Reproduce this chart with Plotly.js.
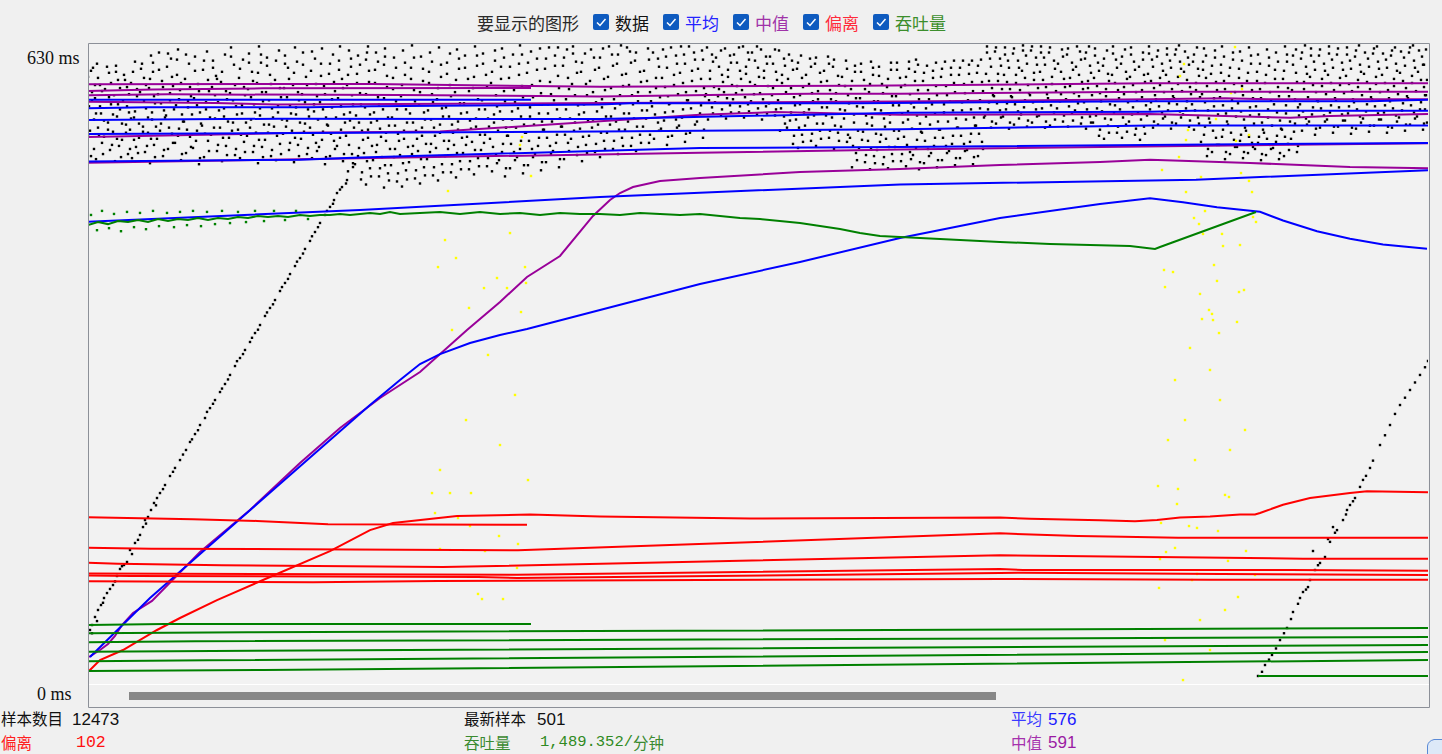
<!DOCTYPE html>
<html><head><meta charset="utf-8">
<script src="https://cdn.plot.ly/plotly-3.0.1.min.js"></script>
<style>html,body{margin:0;padding:0;background:#f0f0f0;overflow:hidden}#chart{width:1442px;height:754px}</style>
</head><body><div id="chart"></div>
<script>
// ---------------- DATA ----------------
const legendLabels = ['数据','平均','中值','偏离','吞吐量'];
const yTickLabels = ['630 ms','0 ms'];
const sampleCount = '12473';
const latestSample = '501';
const averageValue = '576';
const medianValue = '591';
const deviationValue = '102';
const throughputValue = '1,489.352/';
const throughputUnit = '分钟';

// response-time samples (sample column, ms), pairs per row
const dataCloud = [
[3,520,0,541,6,556,1,569,4,583,0,598,5,607],
[8,517,14,533,10,548,13,562,7,577,12,590,9,611],
[22,526,16,539,20,553,23,571,17,586,21,602],
[27,515,31,530,25,544,29,559,32,566,26,580,30,595,28,609],
[40,522,34,536,38,551,41,563,35,574,39,588,36,600],
[44,518,48,529,42,546,46,558,49,579,43,592,47,613],
[57,524,51,538,55,549,58,567,52,583,56,597,53,606],
[62,513,66,531,60,543,64,556,67,572,61,587,65,603,63,619],
[75,520,69,537,73,552,76,565,70,581,74,594,71,622],
[80,527,84,542,78,560,82,575,85,589,79,608,83,616],
[93,516,87,533,91,547,94,561,88,570,92,585,89,600,90,625],
[98,523,102,539,96,554,100,568,103,579,97,596,101,611],
[111,512,105,528,109,545,112,563,106,577,110,591,107,618],
[116,519,120,535,114,550,118,566,121,584,115,605,119,623],
[129,525,123,541,127,557,130,573,124,588,128,599,125,614],
[134,515,138,530,132,548,136,559,139,576,133,593,137,620],
[147,521,141,538,145,553,148,569,142,582,146,610,143,627],
[152,518,156,534,150,546,154,562,157,580,151,597,155,615],
[165,524,159,540,163,556,166,571,160,586,164,603,161,621],
[170,513,174,529,168,543,172,560,175,574,169,592,173,612,171,628],
[183,520,177,536,181,551,184,567,178,583,182,600,179,617],
[188,516,192,532,186,549,190,563,193,578,187,595,191,624],
[201,526,195,542,199,555,202,570,196,587,200,607,197,619],
[206,514,210,531,204,545,208,561,211,575,205,590,209,613,207,627],
[219,522,213,537,217,552,220,566,214,581,218,598,215,622],
[224,518,228,533,222,548,226,564,229,579,223,604,227,616],
[237,512,231,529,235,544,238,558,232,573,236,589,233,611,234,626],
[242,520,246,535,240,550,244,568,247,584,241,601,245,620],
[255,515,249,530,253,546,256,561,250,577,254,596,251,614,252,628],
[260,505,264,522,258,540,262,555,265,571,259,590,263,608,261,624],
[273,497,267,512,271,528,274,545,268,560,272,582,269,601,270,619],
[278,492,282,508,276,523,280,538,283,553,277,568,281,593,278,615,280,628],
[291,500,285,516,289,531,292,547,286,563,290,578,287,605,288,622],
[296,489,300,503,294,519,298,535,301,550,295,566,299,588,296,610,297,626],
[309,495,303,511,307,527,310,542,304,558,308,574,305,597,306,617],
[314,490,318,506,312,521,316,537,319,553,313,579,317,600,315,624],
[327,498,321,514,325,530,328,545,322,562,326,585,323,607,324,629],
[332,493,336,509,330,525,334,540,337,556,331,571,335,594,333,618],
[345,501,339,517,343,532,346,548,340,565,344,581,341,603,342,622],
[350,496,354,512,348,528,352,543,355,559,349,576,353,598,351,627],
[363,504,357,520,361,535,364,551,358,568,362,590,359,612],
[368,499,372,515,366,531,370,546,373,562,367,583,371,606,369,625],
[381,507,375,523,379,539,382,555,376,572,380,596,377,619],
[386,502,390,518,384,534,388,549,391,566,385,587,389,609,387,628],
[399,510,393,526,397,541,400,557,394,575,398,600,395,621],
[404,505,408,521,402,537,406,553,409,569,403,592,407,614],
[417,500,411,516,415,532,418,548,412,564,416,584,413,608,414,626],
[422,508,426,524,420,540,424,556,427,573,421,597,425,620],
[435,503,429,519,433,535,436,551,430,567,434,589,431,611,432,629],
[440,511,444,527,438,543,442,559,445,578,439,602,443,623],
[453,506,447,522,451,538,454,554,448,571,452,594,449,616],
[458,514,462,530,456,546,460,562,463,581,457,606,461,627],
[471,509,465,525,469,541,472,557,466,575,470,599,467,619],
[476,517,480,533,474,549,478,566,481,586,475,609,479,625],
[489,521,483,537,487,553,490,570,484,591,488,613,485,628],
[494,515,498,531,492,547,496,563,499,580,493,603,497,621],
[507,524,501,540,505,556,508,573,502,594,506,617],
[512,519,516,535,510,551,514,568,517,585,511,607,515,626],
[525,527,519,543,523,559,526,576,520,598,524,620],
[530,522,534,538,528,554,532,571,535,589,529,611,533,629],
[543,530,537,546,541,562,544,580,538,601,542,623],
[548,525,552,541,546,557,550,574,553,593,547,614],
[561,533,555,549,559,565,562,583,556,604,560,626],
[566,537,570,553,564,569,568,587,571,608,565,622],
[579,531,573,547,577,563,580,579,574,597,578,618],
[584,540,588,556,582,572,586,590,589,611,583,627],
[597,534,591,550,595,566,598,583,592,602,596,620],
[602,543,606,559,600,575,604,594,607,615,601,628],
[615,538,609,554,613,570,616,587,610,606,614,624],
[620,556,624,568,618,581,622,596,625,613,619,627],
[633,560,627,573,631,586,634,600,628,617],
[638,557,642,570,636,583,640,598,643,612,637,626],
[651,563,645,576,649,589,652,604,646,620],
[656,558,660,571,654,585,658,601,661,615,655,628],
[669,561,663,574,667,590,670,607,664,622],
[674,556,678,569,672,582,676,597,679,611,673,625],
[687,560,681,572,685,587,688,603,682,618],
[692,545,696,559,690,575,694,592,697,609,691,624],
[705,532,699,548,703,563,706,578,700,596,704,614],
[710,528,714,541,708,556,712,571,715,588,709,606,713,619],
[723,535,717,550,721,566,724,582,718,600,722,616],
[728,530,732,545,726,560,730,576,733,593,727,611],
[741,538,735,552,739,568,742,585,736,604,740,618],
[746,527,750,543,744,558,748,574,751,590,745,608],
[759,534,753,549,757,565,760,580,754,598,758,614],
[764,509,768,523,762,538,766,553,769,569,763,586,767,603],
[777,514,771,528,775,544,778,560,772,577,776,595,773,611],
[782,507,786,520,780,535,784,550,787,566,781,583,785,600,783,613],
[795,512,789,526,793,541,796,557,790,574,794,591,791,608],
[800,508,804,522,798,537,802,553,805,570,799,588,803,605],
[813,515,807,529,811,545,814,562,808,579,812,597,809,612],
[818,510,822,524,816,539,820,556,823,572,817,590,821,606],
[831,507,825,521,829,536,832,552,826,568,830,585,827,603,828,615],
[836,513,840,527,834,543,838,559,841,576,835,594,839,609],
[849,509,843,523,847,538,850,554,844,571,848,589,845,604],
[854,516,858,530,852,546,856,563,859,580,853,598,857,613],
[867,511,861,525,865,540,868,557,862,574,866,592,863,607],
[872,518,876,532,870,548,874,565,877,582,871,600,875,614],
[885,512,879,526,883,542,886,558,880,575,884,593,881,610],
[890,520,894,534,888,550,892,567,895,584,889,602,893,615],
[903,548,897,560,901,573,904,587,898,601,902,616,899,628],
[908,552,912,565,906,579,910,594,913,609,907,623],
[921,547,915,559,919,572,922,586,916,600,920,614,917,627],
[926,551,930,564,924,578,928,592,931,607,925,621],
[939,549,933,561,937,575,940,590,934,604,938,619,935,629],
[944,553,948,566,942,580,946,595,949,610,943,624],
[957,548,951,560,955,574,958,588,952,603,956,617,953,628],
[962,550,966,563,960,577,964,591,967,606,961,622],
[975,554,969,567,973,581,976,596,970,611,974,625],
[980,549,984,562,978,576,982,589,985,605,979,620],
[993,552,987,565,991,579,994,593,988,608,992,623],
[998,547,1002,559,996,573,1000,587,1003,602,997,616,1001,628],
[1011,540,1005,553,1009,567,1012,582,1006,597,1010,612,1007,626],
[1016,537,1020,550,1014,564,1018,579,1021,594,1015,609,1019,624],
[1029,543,1023,556,1027,570,1030,585,1024,600,1028,615,1025,628],
[1034,538,1038,551,1032,566,1036,581,1039,596,1033,611,1037,625],
[1047,541,1041,554,1045,568,1048,583,1042,598,1046,613,1043,627],
[1052,536,1056,549,1050,563,1054,578,1057,593,1051,608,1055,622],
[1065,548,1059,560,1063,573,1066,587,1060,601,1064,615,1061,628],
[1070,551,1074,563,1068,576,1072,590,1075,604,1069,618],
[1083,547,1077,559,1081,572,1084,586,1078,600,1082,614,1079,626],
[1088,552,1092,564,1086,577,1090,591,1093,606,1087,620,1091,629],
[1101,549,1095,561,1099,574,1102,588,1096,603,1100,617],
[1106,546,1110,558,1104,571,1108,585,1111,599,1105,613,1109,627],
[1119,520,1113,534,1117,549,1120,565,1114,581,1118,597,1115,613,1116,626],
[1124,524,1128,538,1122,553,1126,569,1129,585,1123,601,1127,617],
[1137,517,1131,531,1135,546,1138,562,1132,578,1136,594,1133,610,1134,628],
[1142,522,1146,536,1140,551,1144,567,1147,583,1141,599,1145,615],
[1155,518,1149,529,1153,541,1156,556,1150,572,1154,589,1151,606,1152,623],
[1160,523,1164,533,1158,545,1162,560,1165,577,1159,594,1163,611,1161,627],
[1173,516,1167,527,1171,539,1174,553,1168,569,1172,586,1169,603,1170,620],
[1178,521,1182,531,1176,543,1180,558,1183,575,1177,592,1181,609,1179,625],
[1191,517,1185,528,1189,540,1192,555,1186,571,1190,588,1187,605,1188,622],
[1196,520,1200,532,1194,546,1198,562,1201,579,1195,596,1199,613,1197,628],
[1209,524,1203,537,1207,552,1210,568,1204,585,1208,602,1205,619],
[1214,545,1218,557,1212,571,1216,586,1219,601,1213,616,1217,629],
[1227,541,1221,554,1225,568,1228,583,1222,598,1226,613,1223,626],
[1232,548,1236,560,1230,574,1234,589,1237,604,1231,619],
[1245,543,1239,556,1243,570,1246,585,1240,600,1244,615,1241,628],
[1250,549,1254,561,1248,575,1252,590,1255,605,1249,620],
[1263,542,1257,555,1261,569,1264,584,1258,599,1262,614,1259,627],
[1268,547,1272,559,1266,573,1270,588,1273,603,1267,618,1271,629],
[1281,544,1275,557,1279,571,1282,586,1276,601,1280,616],
[1286,550,1290,562,1284,576,1288,591,1291,606,1285,621,1289,628],
[1299,543,1293,556,1297,570,1300,585,1294,600,1298,615],
[1304,548,1308,560,1302,574,1306,589,1309,604,1303,619,1307,627],
[1317,545,1311,558,1315,572,1318,587,1312,602,1316,617],
[1322,551,1326,563,1320,577,1324,592,1327,607,1321,622,1325,629],
[1335,546,1329,559,1333,573,1336,588,1330,603,1334,618],
[1339,553,1337,566,1338,580,1339,595,1336,610,1338,625]
];
const dataCloudLater = [
[6,527,2,545,8,562,4,575,7,590,3,604],
[15,522,11,540,16,555,12,569,14,584,10,597],
[24,531,20,546,25,561,21,578,23,592,19,608],
[33,519,29,537,34,552,30,571,32,587,28,603],
[42,527,38,543,43,557,39,569,41,581,37,595],
[50,523,46,536,51,552,47,564,49,586,45,603],
[59,530,55,544,60,558,56,574,58,590,54,611],
[67,519,63,537,68,549,64,563,66,579,62,596,65,612],
[76,526,72,545,77,558,73,572,75,588,71,605],
[85,533,81,548,86,566,82,582,84,598,80,621],
[94,522,90,540,95,554,91,576,93,592,89,615],
[103,529,99,546,104,561,100,574,102,588,98,620],
[112,518,108,535,113,552,109,570,111,584,107,604],
[121,525,117,542,122,558,118,573,120,595,116,614],
[130,531,126,548,131,565,127,580,129,596,125,607],
[139,521,135,538,140,554,136,567,138,584,134,603],
[148,527,144,545,149,561,145,575,147,590,143,618],
[157,524,153,541,158,553,154,570,156,588,152,606],
[166,530,162,548,167,563,163,578,165,594,161,612],
[175,519,171,536,176,551,172,567,174,583,170,602,173,620],
[184,526,180,543,185,558,181,575,183,591,179,609],
[193,522,189,540,194,556,190,570,192,587,188,614],
[202,533,198,549,203,562,199,578,201,596,197,611],
[211,520,207,538,212,553,208,568,210,583,206,602],
[220,528,216,544,221,559,217,573,219,590,215,610],
[229,525,225,541,230,556,226,571,228,591,224,623],
[238,519,234,536,239,551,235,566,237,581,233,599],
[247,527,243,542,248,558,244,576,246,593,242,611],
[256,522,252,538,257,553,253,569,255,587,251,605],
[265,513,261,531,266,548,262,563,264,580,260,600,263,616],
[274,504,270,520,275,536,271,553,273,571,269,592,272,610],
[283,500,279,515,284,530,280,546,282,561,278,581,281,604,279,622],
[292,508,288,524,293,539,289,555,291,571,287,592,290,613],
[301,496,297,511,302,527,298,543,300,558,296,577,299,599,297,618],
[310,503,306,519,311,535,307,550,309,566,305,586,308,607],
[319,497,315,513,320,529,316,545,318,566,314,590,317,612],
[328,506,324,522,329,537,325,553,327,574,323,596,326,617],
[337,501,333,517,338,532,334,548,336,563,332,583,335,606],
[346,509,342,524,347,540,343,556,345,573,341,592,344,613],
[355,504,351,520,356,535,352,551,354,567,350,587,353,610],
[364,512,360,527,365,543,361,559,363,579,359,601,362,621],
[373,507,369,523,374,538,370,554,372,572,368,595,371,616],
[382,515,378,531,383,547,379,563,381,584,377,607],
[391,510,387,526,392,541,388,557,390,576,386,598,389,619],
[400,518,396,533,401,549,397,566,399,588,395,611],
[409,513,405,529,410,545,406,561,408,580,404,603,407,624],
[418,508,414,524,419,540,415,556,417,574,413,596,416,617],
[427,516,423,532,428,548,424,564,426,585,422,608],
[436,511,432,527,437,543,433,559,435,578,431,600,434,620],
[445,519,441,535,446,551,442,568,444,590,440,612],
[454,514,450,530,455,546,451,562,453,582,449,605,452,626],
[463,522,459,538,464,554,460,571,462,593,458,616],
[472,517,468,533,473,549,469,566,471,587,467,609,470,627],
[481,525,477,541,482,557,478,576,480,597,476,617],
[490,529,486,545,491,561,487,580,489,602,485,621],
[499,523,495,539,500,555,496,571,498,591,494,612],
[508,532,504,548,509,564,505,583,507,605,503,625],
[517,527,513,543,518,559,514,576,516,596,512,617],
[526,535,522,551,527,567,523,587,525,609,521,628],
[535,530,531,546,536,562,532,580,534,600,530,620],
[544,538,540,554,545,571,541,590,543,612,539,627],
[553,533,549,549,554,565,550,583,552,603,548,622],
[562,541,558,557,563,574,559,594,561,615],
[571,545,567,561,572,578,568,597,570,616],
[580,539,576,555,581,571,577,588,579,607,575,625],
[589,548,585,564,590,581,586,600,588,619],
[598,542,594,558,599,575,595,592,597,611,593,628],
[607,551,603,567,608,584,604,604,606,622],
[616,546,612,562,617,579,613,596,615,615],
[625,562,621,575,626,588,622,604,624,620],
[634,566,630,579,635,593,631,608,633,624],
[643,563,639,577,644,590,640,605,642,619],
[652,569,648,582,653,596,649,612,651,627],
[661,564,657,578,662,593,658,608,660,622],
[670,567,666,581,671,598,667,614,669,628],
[679,562,675,576,680,589,676,604,678,618],
[688,566,684,580,689,595,685,611,687,625],
[697,552,693,567,698,583,694,600,696,616],
[706,540,702,555,707,570,703,587,705,605,701,620],
[715,534,711,548,716,563,712,580,714,597,710,612],
[724,542,720,558,725,574,721,591,723,608],
[733,537,729,552,734,568,730,584,732,602,728,617],
[742,545,738,560,743,576,739,594,741,611],
[751,535,747,550,752,566,748,582,750,599,746,615],
[760,541,756,557,761,572,757,589,759,606],
[769,516,765,530,770,545,766,561,768,577,764,594,767,609],
[778,521,774,536,779,552,775,568,777,586,773,603],
[787,513,783,527,788,542,784,558,786,574,782,591,785,607],
[796,519,792,534,797,549,793,565,795,582,791,599],
[805,515,801,529,806,545,802,561,804,579,800,596,803,612],
[814,522,810,537,815,553,811,570,813,588,809,605],
[823,517,819,531,824,547,820,564,822,581,818,598,821,613],
[832,514,828,528,833,544,829,560,831,576,827,594,830,610],
[841,520,837,535,842,551,838,567,840,585,836,602],
[850,516,846,530,851,546,847,562,849,580,845,597,848,612],
[859,523,855,538,860,554,856,571,858,589,854,606],
[868,518,864,532,869,548,865,565,867,583,863,600,866,614],
[877,525,873,540,878,556,874,573,876,591,872,607],
[886,519,882,534,887,550,883,566,885,584,881,601,884,614],
[895,527,891,542,896,558,892,575,894,593,890,609],
[904,554,900,566,905,580,901,594,903,608,899,622],
[913,558,909,572,914,586,910,601,912,616,908,627],
[922,553,918,566,923,579,919,593,921,607,917,620],
[931,557,927,571,932,585,928,600,930,614,926,626],
[940,555,936,568,941,582,937,597,939,611,935,624],
[949,559,945,573,950,587,946,602,948,617,944,628],
[958,554,954,567,959,581,955,595,957,610,953,622],
[967,556,963,570,968,584,964,598,966,614,962,627],
[976,560,972,574,977,588,973,603,975,618],
[985,555,981,569,986,582,982,597,984,612,980,626],
[994,558,990,572,995,586,991,600,993,615,989,628],
[1003,553,999,566,1004,580,1000,594,1002,609,998,622],
[1012,546,1008,560,1013,574,1009,589,1011,604,1007,619],
[1021,543,1017,557,1022,571,1018,586,1020,601,1016,616],
[1030,549,1026,563,1031,577,1027,592,1029,607,1025,621],
[1039,544,1035,558,1040,573,1036,588,1038,603,1034,618],
[1048,547,1044,561,1049,575,1045,590,1047,605,1043,620],
[1057,542,1053,556,1058,570,1054,585,1056,600,1055,615],
[1066,554,1062,566,1067,580,1063,594,1065,608,1061,621],
[1075,557,1071,569,1076,583,1072,597,1074,611,1070,624],
[1084,553,1080,565,1085,579,1081,593,1083,607,1079,620],
[1093,558,1089,571,1094,584,1090,598,1092,613,1088,625],
[1102,555,1098,567,1103,581,1099,595,1101,610,1097,623],
[1111,552,1107,565,1112,578,1108,592,1110,606,1106,620],
[1120,527,1116,541,1121,557,1117,573,1119,589,1115,605,1118,619],
[1129,531,1125,545,1130,561,1126,577,1128,593,1124,609,1127,624],
[1138,524,1134,539,1139,554,1135,570,1137,586,1133,602,1136,618],
[1147,529,1143,543,1148,559,1144,575,1146,591,1142,607,1145,622],
[1156,524,1152,535,1157,548,1153,564,1155,580,1151,597,1154,614],
[1165,529,1161,539,1166,552,1162,568,1164,585,1160,602,1163,619],
[1174,522,1170,533,1175,546,1171,561,1173,577,1169,594,1172,611],
[1183,527,1179,537,1184,550,1180,566,1182,583,1178,600,1181,617],
[1192,523,1188,534,1193,547,1189,563,1191,579,1187,596,1190,613],
[1201,526,1197,539,1202,554,1198,570,1200,587,1196,604,1199,620],
[1210,530,1206,544,1211,560,1207,576,1209,593,1205,610,1208,625],
[1219,551,1215,564,1220,578,1216,593,1218,608,1214,622],
[1228,547,1224,561,1229,575,1225,590,1227,605,1223,619],
[1237,554,1233,567,1238,581,1234,596,1236,611,1232,625],
[1246,549,1242,563,1247,577,1243,592,1245,607,1241,621],
[1255,555,1251,568,1256,582,1252,597,1254,612,1250,626],
[1264,548,1260,562,1265,576,1261,591,1263,606,1259,620],
[1273,553,1269,566,1274,580,1270,595,1272,610,1268,624],
[1282,550,1278,564,1283,578,1279,593,1281,608,1277,622],
[1291,556,1287,569,1292,583,1288,598,1290,613,1286,626],
[1300,549,1296,563,1301,577,1297,592,1299,607,1295,621],
[1309,554,1305,567,1310,581,1306,596,1308,611,1304,624],
[1318,551,1314,565,1319,579,1315,594,1317,609,1313,623],
[1327,557,1323,570,1328,584,1324,599,1326,614,1322,627],
[1336,552,1332,566,1337,580,1333,595,1335,610,1331,624]
];
const dataRampLeft = [[2,53.2],[4,58.1],[7,66],[10,72.9],[13,77.8],[16,84.7],[19,89.6],[22,93.6],[25,97.5],[29,106.4],[32,113.3],[36,117.2],[39,120.2],[42,132],[47,138.9],[52,146.8],[55,154.6],[57,161.5],[60,164.5],[63,171.4],[66,178.3],[69,183.2],[72,188.1],[77,196],[82,204.9],[87,212.8],[92,220.6],[98,230.5],[102,238.4],[107,246.2],[112,255.1],[117,262],[122,271.8],[127,279.7],[132,287.6],[137,295.5],[142,304.4],[147,313.2],[152,321.1],[157,329],[162,336.9],[167,345.7],[172,353.6],[177,362.5],[182,370.4],[187,378.2],[192,387.1],[197,395],[202,403.8],[207,411.7],[212,419.6],[217,428.5],[222,436.4],[227,445.2],[232,454.1],[237,462],[242,469.9],[246,476.7],[249,483.6],[254,489.5],[259,496.4],[265,509.2],
 [4,50],[9,62],[15,80],[27,101],[34,116],[44,128],[50,142],[58,158],[68,176],[75,192],[85,209],[95,226],[104,241],[110,250],[119,268],[125,276],[134,291],[140,300],[149,318],[155,325],[164,341],[170,349],[179,366],[185,374],[194,391],[200,399],[209,416],[215,424],[224,441],[230,450],[239,466],[245,473],[252,487],[258,493]];
const dataRampRight = [[1170,7.9],[1177,18.7],[1184,28.6],[1192,43.3],[1199,55.2],[1205,70.9],[1212,84.7],[1215,90.6],[1220,95.5],[1222,102.4],[1227,112.3],[1232,119.2],[1237,125.1],[1225,131],[1240,142.8],[1245,154.6],[1249,151.6],[1255,161.5],[1259,171.4],[1262,176.3],[1267,183.2],[1272,194.1],[1275,201],[1282,212.8],[1292,235.4],[1302,255.1],[1312,274.8],[1322,289.6],[1332,304.4],[1340,318.2],
 [1174,12],[1181,24],[1188,35],[1196,50],[1203,64],[1210,79],[1218,93],[1230,117],[1242,140],[1247,149],[1258,167],[1265,180],[1278,205],[1285,220],[1297,245],[1307,266],[1317,282],[1327,297],[1337,312]];
const latestMarks = [[357,437.3],[350,410.7],[368,419.6],[409,399.9],[396,390],[381,370.4],[422,444.2],[437,410.7],[438,395],[419,390],[433,366.4],[360,485.6],[443,500.4],[434,538.8],[432,530.9],[344,188.1],[362,188.1],[383,188.1],[347,168.4],[370,163.5],[382,155.6],[411,145.8],[430,137.9],[352,133],[397,131],[429,114.3],[390,88.7],[394,83.7],[415,83.7],[364,348.7],[400,324.1],[427,284.7],[378,260],[412,235.4],[352,210.8],[440,200.9],
[1091,519.1],[1074,506.3],[1113,499.4],[1153,503.3],[1161,495.5],[1098,484.6],[1164,484.6],[1117,465.9],[1106,459],[1111,453.1],[1165,460],[1168,455.1],[1134,443.3],[1115,443.3],[1135,431.4],[1152,432.4],[1126,412.7],[1076,407.8],[1085,405.8],[1129,397],[1077,391],[1112,384.2],[1151,386.1],[1156,388.1],[1121,368.4],[1124,364.5],[1114,359.5],[1125,358.5],[1149,356.6],[1131,345.7],[1102,331],
[1096,610.7],[1092,598.9],[1154,586],[1128,556.5],[1100,545.7],[1098,535.8],[1148,534.9],[1161,540.8],[1143,582.1],[1147,627.4],
[1070,195],[1090,192.1],[1089,177.3],[1137,186.2],[1141,184.2],[1073,158.6],[1101,155.6],[1109,153.7],[1130,150.7],[1078,130],[1087,134],[1158,131],[1072,123.1],[1140,121.2],[1167,107.4],[1109,108.4],[1104,102.4],[1071,94.6],[1150,85.7],
[1087,299.4],[1097,260],[1107,220.6],[1132,279.7],[1142,230.5],[1080,240.3],[1122,309.3],[1157,250.2],[1112,63],[1122,33.5],[1095,3.9],[1077,43.3],[1137,72.9]];

// median (ms)
const medianRuns = [
 [[0,590.7],[284,591],[512,588.3],[772,589.3],[1062,591.7],[1340,591.7]],
 [[0,584.1],[65,585.7],[175,586.7],[443,587]],
 [[0,579.8],[80,580.8],[312,580.1],[512,578.8],[722,581.4],[812,581.4],[1062,583.4],[1340,583.4]],
 [[0,573.4],[127,572.4],[189,570.7],[512,572.4],[812,573.7],[1062,576],[1137,577],[1180,576],[1340,576]],
 [[0,538.9],[212,542.9],[352,544.2],[512,554.7],[612,560.6],[687,563.3],[812,560.7],[1062,561.4],[1202,557.7],[1242,559.4],[1340,561.4]],
 [[0,513.4],[212,516.8],[512,521],[612,523.3],[812,526.6],[1062,529.2],[1340,532.6]]
];
const medianFirstRun = [[1,26.6],[12,33.5],[20,39.4],[27,47.3],[34,58.1],[45,70],[64,81.8],[112,130],[162,171.4],[212,217.7],[252,252.2],[292,281.7],[332,307.3],[357,329],[379,348.7],[412,376.3],[439,400.9],[472,421.6],[492,445.2],[505,461],[522,476.7],[532,483.6],[545,489.5],[572,495.5],[612,498.4],[712,504.3],[812,507.3],[912,511.2],[1012,514.2],[1062,516.4],[1162,513.2],[1262,509.2],[1340,508]];

// average (ms)
const averageRuns = [
 [[0,575.6],[443,575.6]],
 [[0,567.1],[60,568.1],[222,568.1],[284,569.1],[512,570.8],[542,572.1],[772,572.1],[1062,574.1],[1282,574.1],[1340,575.5]],
 [[0,555.5],[190,556.8],[512,556.5],[812,562.7],[1062,563.7],[1104,564.7],[1340,564.7]],
 [[0,541.8],[212,542.5],[512,544.2],[812,546.5],[1062,550],[1340,550]],
 [[0,514.6],[212,516.5],[272,518.5],[512,524.8],[612,528],[812,529],[1062,531],[1340,533]],
 [[0,455.4],[212,463.8],[272,466.8],[512,479.6],[612,484],[812,491.9],[1108,496.8],[1340,506]]
];
const averageFirstRun = [[2,26.6],[62,84.7],[185,191.1],[242,240.3],[282,274.8],[312,299.4],[332,315.2],[352,325],[382,335.9],[412,343.8],[439,349.7],[512,368.4],[612,394],[712,415.7],[812,439.3],[912,459],[1012,472.8],[1062,478.5],[1095,474.6],[1129,469.6],[1162,466.4],[1172,465.1],[1195,456.5],[1229,446],[1262,438.5],[1295,432.9],[1339,428.6]];

// deviation (ms)
const deviationRuns = [
 [[0,164.2],[69,163.2],[105,162.2],[169,160.6],[204,158.9],[240,157.3],[439,156.9]],
 [[0,134.3],[63,133.3],[209,132.7],[430,131.7],[912,148.4],[947,147.1],[990,145.8],[1035,145.1],[1090,144.1],[1340,144.1]],
 [[0,119.5],[30,118.5],[134,116.9],[240,116.2],[355,115.2],[912,126.8],[1047,125.4],[1131,124.1],[1215,123.4],[1340,123.4]],
 [[0,108.8],[429,107.7],[912,113.3],[935,112.3],[1202,112.3],[1340,111.6]],
 [[0,106.9],[43,106.4],[390,105.4],[429,104.4],[912,109.3],[935,109.6],[1133,108.4],[1327,107.4],[1340,107.4]],
 [[0,101.2],[225,100.2],[350,101.5],[912,103.4],[1122,102.7],[1340,102.7]]
];
const deviationFirstRun = [[1,12.8],[12,23.6],[35,33.5],[69,53.2],[92,65],[129,82.7],[175,102.4],[242,130.9],[282,151.6],[305,158.5],[369,165.5],[442,166.9],[512,165],[662,163],[912,164],[942,162.8],[1012,161.2],[1047,160.2],[1069,161.6],[1092,164.1],[1122,165.1],[1152,167],[1167,167],[1172,168.4],[1195,176.6],[1222,183.2],[1262,188.2],[1279,189.8],[1340,188.8]];

// throughput (scaled to chart)
const throughputRuns = [
 [[0,58.1],[76,59.1],[443,59.1]],
 [[0,49.9],[160,50.9],[1340,55.2]],
 [[0,41.1],[107,42.1],[1340,46.3]],
 [[0,31.8],[166,32.8],[1340,38.4]],
 [[0,22.4],[119,23.3],[1340,31.5]],
 [[0,12.8],[176,13.8],[1340,23.6]],
 [[1170,7.9],[1340,7.9]]
];
const throughputFirstRun = [[0,452],[10,455],[20,453],[30,456],[40,455],[50,457],[60,455],[70,458],[80,456],[90,458],[100,457],[110,459],[120,457],[130,459],[140,458],[150,460],[160,459],[170,461],[180,460],[190,461],[200,460],[212,462],[222,461],[232,462],[242,462],[252,463],[262,462],[272,463],[282,463.9],[292,463],[302,464.9],[312,463],[332,463.9],[352,464.9],[372,463],[392,464.9],[412,463],[432,463.9],[452,462],[472,463.9],[492,463],[512,463],[532,462],[552,463.9],[572,463],[592,462],[612,463],[632,461],[652,459],[672,458],[692,456.1],[712,454.1],[732,451.1],[752,448.2],[772,444.2],[792,441.3],[812,440.3],[832,439.3],[862,437.3],[912,435.4],[962,433.4],[1012,432.4],[1042,431.4],[1067,428.5],[1072,430.4],[1168,464.9]];
const throughputFirstRunScatter = [[3,462],[9,447],[14,466],[21,449],[26,463],[33,446],[39,465],[46,450],[52,464],[58,448],[65,466],[71,451],[79,464],[86,450],[92,465],[99,452],[105,466],[113,451],[119,465],[127,453],[134,466],[142,454],[150,465],[158,455],[167,466],[176,456],[186,466],[197,457],[208,466],[220,458]];

// ---------------- DRAW ----------------
const C = {data:'#000000', avg:'#0000ff', med:'#990099', dev:'#ff0000', thr:'#008000', latest:'#ffff00'};
const traces = [];
const cx = [], cy = [];
dataCloud.concat(dataCloudLater).forEach(r => { for (let i = 0; i < r.length; i += 2) { cx.push(r[i]); cy.push(r[i+1]); } });
dataRampLeft.concat(dataRampRight).forEach(p => { cx.push(p[0]); cy.push(p[1]); });
traces.push({type:'scatter', mode:'markers', x:cx, y:cy, marker:{color:C.data, size:2.4, symbol:'square', line:{width:0}}, hoverinfo:'skip'});
traces.push({type:'scatter', mode:'markers', x:latestMarks.map(p=>p[0]), y:latestMarks.map(p=>p[1]), marker:{color:C.latest, size:2.4, symbol:'square', line:{width:0}}, hoverinfo:'skip'});
function addLine(pts, color){ traces.push({type:'scatter', mode:'lines', x:pts.map(p=>p[0]), y:pts.map(p=>p[1]), line:{color:color, width:2}, hoverinfo:'skip'}); }
medianRuns.forEach(l => addLine(l, C.med)); addLine(medianFirstRun, C.med);
averageRuns.forEach(l => addLine(l, C.avg)); addLine(averageFirstRun, C.avg);
deviationRuns.forEach(l => addLine(l, C.dev)); addLine(deviationFirstRun, C.dev);
throughputRuns.forEach(l => addLine(l, C.thr)); addLine(throughputFirstRun, C.thr);
traces.push({type:'scatter', mode:'markers', x:throughputFirstRunScatter.map(p=>p[0]), y:throughputFirstRunScatter.map(p=>p[1]), marker:{color:C.thr, size:2.4, symbol:'square', line:{width:0}}, hoverinfo:'skip'});

// layout helpers (pixel -> paper)
const L = 88, T = 44, W = 1340, H = 641;
const PX = px => (px - L) / W;
const PY = py => (T + H - py) / H;
const shapes = [];
const annotations = [];
shapes.push({type:'rect', xref:'paper', yref:'paper', x0:PX(88.5), x1:PX(1429.5), y0:PY(707.5), y1:PY(43.5), line:{color:'#8c9098', width:1}, layer:'above'});
shapes.push({type:'line', xref:'paper', yref:'paper', x0:PX(89), x1:PX(1429), y0:PY(684.5), y1:PY(684.5), line:{color:'#ffffff', width:1}, layer:'above'});
shapes.push({type:'rect', xref:'paper', yref:'paper', x0:PX(129), x1:PX(996), y0:PY(700), y1:PY(692), fillcolor:'#878787', line:{width:0}, layer:'above'});
shapes.push({type:'path', xref:'paper', yref:'paper', path:`M ${PX(1427.5)} ${PY(755)} L ${PX(1427.5)} ${PY(746)} Q ${PX(1428)} ${PY(741)} ${PX(1434)} ${PY(739.5)} L ${PX(1443)} ${PY(739.5)} L ${PX(1443)} ${PY(755)} Z`, fillcolor:'#dde9f8', line:{color:'#5a8ad6', width:1}, layer:'above'});

function addText(text, px, py, opts){
  annotations.push(Object.assign({text:text, xref:'paper', yref:'paper', x:PX(px), y:PY(py), xanchor:'left', yanchor:'middle', showarrow:false, borderpad:0,
    font:{family:'Noto Sans CJK SC', size:17, color:'#111'}}, opts||{}));
}
const cjk = 'Noto Sans CJK SC';
addText('要显示的图形', 476, 22, {font:{family:cjk, size:17, color:'#2a2a2a'}});
const legendColors = ['#111111','#2424ff','#a033a8','#ff2a3a','#3c8e2c'];
const boxX = [593, 663, 733, 803, 873];
legendLabels.forEach((lab, i) => {
  const bx = boxX[i], by = 14;
  shapes.push({type:'path', xref:'paper', yref:'paper', path:`M ${PX(bx+2)} ${PY(by)} L ${PX(bx+14)} ${PY(by)} Q ${PX(bx+16)} ${PY(by)} ${PX(bx+16)} ${PY(by+2)} L ${PX(bx+16)} ${PY(by+14)} Q ${PX(bx+16)} ${PY(by+16)} ${PX(bx+14)} ${PY(by+16)} L ${PX(bx+2)} ${PY(by+16)} Q ${PX(bx)} ${PY(by+16)} ${PX(bx)} ${PY(by+14)} L ${PX(bx)} ${PY(by+2)} Q ${PX(bx)} ${PY(by)} ${PX(bx+2)} ${PY(by)} Z`, fillcolor:'#0f5bbf', line:{width:0}, layer:'above'});
  shapes.push({type:'path', xref:'paper', yref:'paper', path:`M ${PX(bx+4)} ${PY(by+8.5)} L ${PX(bx+7)} ${PY(by+11.5)} L ${PX(bx+12.5)} ${PY(by+5)}`, line:{color:'#ffffff', width:1.5}, layer:'above'});
  addText(lab, bx+21, 22, {font:{family:cjk, size:17, color:legendColors[i]}});
});
addText(yTickLabels[0], 81, 58, {xanchor:'right', font:{family:'Liberation Serif', size:18, color:'#111'}});
addText(yTickLabels[1], 73, 694, {xanchor:'right', font:{family:'Liberation Serif', size:18, color:'#111'}});
const sans = 'Liberation Sans', mono = 'Liberation Mono';
const bs = 15.5;
addText('样本数目', 0, 718, {font:{family:cjk, size:bs, color:'#111'}});
addText(sampleCount, 71, 719, {font:{family:sans, size:17, color:'#111'}});
addText('偏离', 0, 742, {font:{family:cjk, size:bs, color:'#ff2020'}});
addText(deviationValue, 75, 742, {font:{family:mono, size:16.5, color:'#ff1010'}});
addText('最新样本', 463, 718, {font:{family:cjk, size:bs, color:'#111'}});
addText(latestSample, 536, 719, {font:{family:sans, size:17, color:'#111'}});
addText('吞吐量', 463, 742, {font:{family:cjk, size:bs, color:'#3a8a30'}});
addText(throughputValue, 539, 742, {font:{family:mono, size:15.5, color:'#2f8a22'}});
addText(throughputUnit, 632, 742, {font:{family:cjk, size:bs, color:'#3a8a30'}});
addText('平均', 1010, 718, {font:{family:cjk, size:bs, color:'#3a3aff'}});
addText(averageValue, 1047, 719, {font:{family:sans, size:17, color:'#1a1aff'}});
addText('中值', 1010, 742, {font:{family:cjk, size:bs, color:'#a531ad'}});
addText(medianValue, 1047, 742, {font:{family:sans, size:17, color:'#9a1aa3'}});

const layout = {
  width:1442, height:754, paper_bgcolor:'#f0f0f0', plot_bgcolor:'#f2f2f2',
  margin:{l:L, r:1442-L-W, t:T, b:754-T-H, pad:0},
  showlegend:false,
  xaxis:{range:[0,1340], visible:false, fixedrange:true},
  yaxis:{range:[-0.985,630.4], visible:false, fixedrange:true},
  shapes:shapes, annotations:annotations
};
Plotly.newPlot('chart', traces, layout, {staticPlot:true, displayModeBar:false});
</script></body></html>
